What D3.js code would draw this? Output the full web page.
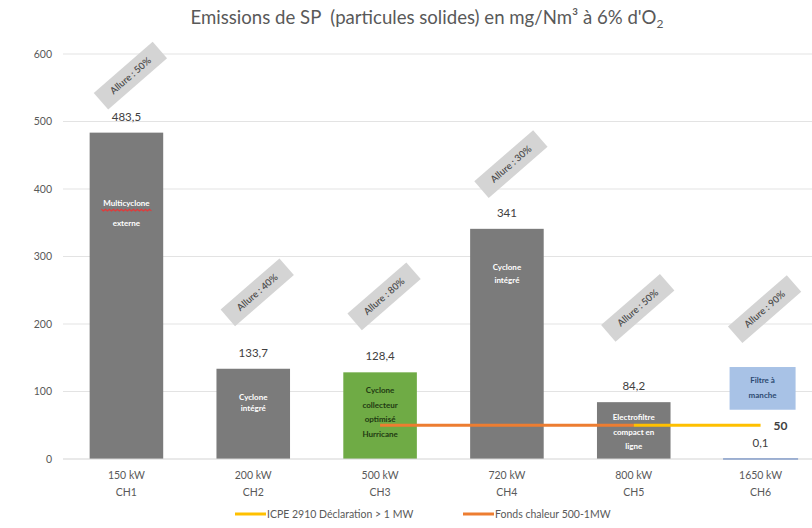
<!DOCTYPE html>
<html>
<head>
<meta charset="utf-8">
<script src="https://cdn.jsdelivr.net/npm/d3@7"></script>
<style>
  html, body { margin: 0; padding: 0; background: #ffffff; }
  svg { display: block; font-family: Lato, "Open Sans", sans-serif; }
</style>
</head>
<body>
<svg id="chart" width="812" height="528"></svg>
<script>
// ---- data ----
const powers = ["150 kW", "200 kW", "500 kW", "720 kW", "800 kW", "1650 kW"];
const codes = ["CH1", "CH2", "CH3", "CH4", "CH5", "CH6"];
const emissions = [483.5, 133.7, 128.4, 341, 84.2, 0.1];
const allure = ["50%", "40%", "80%", "30%", "50%", "90%"];
const equipment = [
  ["Multicyclone", "externe"],
  ["Cyclone", "intégré"],
  ["Cyclone", "collecteur", "optimisé", "Hurricane"],
  ["Cyclone", "intégré"],
  ["Electrofiltre", "compact en", "ligne"],
  ["Filtre à", "manche"]
];
const icpeDeclaration = [null, null, null, null, 50, 50];
const fondsChaleur = [null, null, 50, 50, 50, null];
const yTicks = [0, 100, 200, 300, 400, 500, 600];

// ---- layout ----
const W = 812, H = 528;
const plotLeft = 63, plotRight = 812;
const svg = d3.select("#chart");

const x = d3.scaleBand().domain(codes).range([plotLeft, 824])
  .paddingInner(0.42).paddingOuter(0.21);
const y = d3.scaleLinear().domain([0, 600]).range([459, 54]);
const cx = i => x(codes[i]) + x.bandwidth() / 2;

// annotation anchors, in chart units
const allureAt = [568, 247, 241, 437, 224, 222];
const innerAt = [379, 92, 102, 284, 62, 117];

const barFill = ["#7b7b7b", "#7b7b7b", "#6fab45", "#7b7b7b", "#7b7b7b", "#4472c4"];
const innerColor = ["#ffffff", "#ffffff", "#1f3a12", "#ffffff", "#ffffff", "#2c4a72"];
const innerGap = [20, 11, 14.5, 13, 14.5, 15];

const locale = d3.formatLocale({ decimal: ",", thousands: " ", grouping: [3], currency: ["", " €"] });
const fmt = locale.format(".1~f");

// title
const title = svg.append("text")
  .attr("x", 427).attr("y", 24)
  .attr("text-anchor", "middle")
  .style("white-space", "pre")
  .attr("font-size", 18.6).attr("fill", "#595959");
title.append("tspan").text("Emissions de SP  (particules solides) en mg/Nm³ à 6% d'O");
title.append("tspan").attr("font-size", 12).attr("dy", 4).text("2");

// gridlines
svg.append("g").selectAll("line").data(yTicks.filter(t => t > 0)).join("line")
  .attr("x1", plotLeft).attr("x2", plotRight)
  .attr("y1", d => y(d)).attr("y2", d => y(d))
  .attr("stroke", "#e3e3e3").attr("stroke-width", 1);

// y axis labels
const yAxis = svg.append("g").attr("transform", `translate(${plotLeft - 11},0)`)
  .call(d3.axisLeft(y).tickValues(yTicks).tickSize(0).tickPadding(0));
yAxis.select(".domain").remove();
yAxis.selectAll("text").attr("font-size", 10.5).attr("fill", "#595959")
  .attr("font-family", "Lato, sans-serif");

// bars
svg.append("g").selectAll("rect").data(emissions).join("rect")
  .attr("x", (d, i) => x(codes[i]))
  .attr("y", d => y(d))
  .attr("width", x.bandwidth())
  .attr("height", d => y(0) - y(d))
  .attr("fill", (d, i) => barFill[i])
  .attr("stroke", (d, i) => i === 5 ? barFill[i] : "none")
  .attr("stroke-width", 1.5);

// baseline
svg.append("line")
  .attr("x1", plotLeft).attr("x2", plotRight)
  .attr("y1", y(0)).attr("y2", y(0))
  .attr("stroke", "#d4d4d4").attr("stroke-width", 1.2);

// x axis labels
const xAxis = svg.append("g");
powers.forEach((p, i) => {
  const t = xAxis.append("text").attr("x", cx(i)).attr("text-anchor", "middle")
    .attr("font-size", 10.5).attr("fill", "#595959");
  t.append("tspan").attr("x", cx(i)).attr("y", 479).text(p);
  t.append("tspan").attr("x", cx(i)).attr("y", 496).text(codes[i]);
});

// blue callout for the bag filter
const boxTop = y(innerAt[5]) - 13, boxBottom = y(73);
svg.append("rect")
  .attr("x", cx(5) - 31).attr("y", boxTop)
  .attr("width", 66).attr("height", boxBottom - boxTop)
  .attr("fill", "#a8c2e6");

// equipment labels inside bars
equipment.forEach((lines, i) => {
  const g = svg.append("text").attr("text-anchor", "middle")
    .attr("font-size", 8).attr("font-weight", 700).attr("fill", innerColor[i]);
  lines.forEach((l, k) => {
    g.append("tspan").attr("x", cx(i) + (i === 5 ? 2 : 0))
      .attr("y", y(innerAt[i]) + 3 + k * innerGap[i]).text(l);
  });
});
// spell-check squiggle under "Multicyclone"
{
  const x0 = cx(0) - 25, yy = y(innerAt[0]) + 6.5;
  const pts = d3.range(0, 51, 2).map((d, k) => [x0 + d, yy + (k % 2 ? 1.2 : -0.4)]);
  svg.append("path").attr("d", d3.line()(pts))
    .attr("fill", "none").attr("stroke", "#e23a3a").attr("stroke-width", 1.2);
}

// value labels
svg.append("g").selectAll("text").data(emissions).join("text")
  .attr("x", (d, i) => cx(i))
  .attr("y", d => y(d) - 12)
  .attr("text-anchor", "middle")
  .attr("font-size", 11.5).attr("fill", "#404040")
  .text(d => fmt(d));

// threshold lines
const line = d3.line()
  .defined(d => d.v != null)
  .x(d => cx(d.i)).y(d => y(d.v));
svg.append("path")
  .attr("d", line(fondsChaleur.map((v, i) => ({ v, i }))))
  .attr("fill", "none").attr("stroke", "#ed7d31").attr("stroke-width", 3);
svg.append("path")
  .attr("d", line(icpeDeclaration.map((v, i) => ({ v, i }))))
  .attr("fill", "none").attr("stroke", "#ffc000").attr("stroke-width", 3);
svg.append("text")
  .attr("x", cx(5) + 13).attr("y", y(icpeDeclaration[5]) + 4.5)
  .attr("font-size", 12).attr("font-weight", 700).attr("fill", "#404040")
  .text(fmt(icpeDeclaration[5]));

// "Allure" tags, rotated
allure.forEach((a, i) => {
  const g = svg.append("g")
    .attr("transform", `translate(${cx(i) + 4},${y(allureAt[i])}) rotate(-41)`);
  g.append("rect").attr("x", -39).attr("y", -11).attr("width", 78).attr("height", 22)
    .attr("fill", "#d4d4d4");
  g.append("text").attr("text-anchor", "middle").attr("dy", "0.35em")
    .attr("font-size", 9.5).attr("font-weight", 600).attr("fill", "#4d4d4d")
    .text("Allure : " + a);
});

// legend
const legend = [
  { name: "ICPE 2910 Déclaration > 1 MW", color: "#ffc000", x: 235 },
  { name: "Fonds chaleur 500-1MW", color: "#ed7d31", x: 463 }
];
const lg = svg.append("g");
legend.forEach(l => {
  lg.append("line").attr("x1", l.x).attr("x2", l.x + 31)
    .attr("y1", 514).attr("y2", 514)
    .attr("stroke", l.color).attr("stroke-width", 3);
  lg.append("text").attr("x", l.x + 32).attr("y", 518)
    .attr("font-size", 10.5).attr("fill", "#595959").text(l.name);
});
</script>
</body>
</html>
